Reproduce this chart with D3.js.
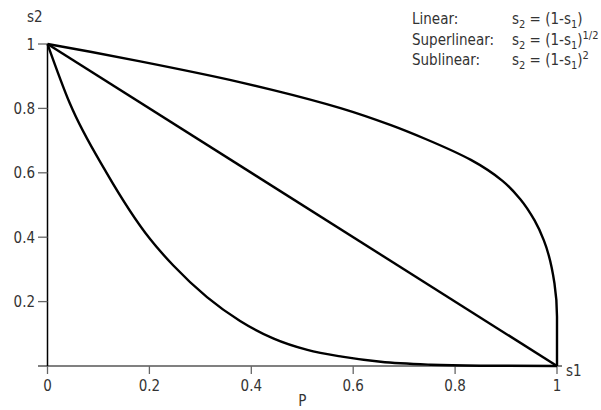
<!DOCTYPE html>
<html><head><meta charset="utf-8">
<script src="https://cdn.jsdelivr.net/npm/d3@7"></script>
<style>
body{margin:0;background:#fff;}
text{font-family:"Liberation Sans Narrow","DejaVu Sans Condensed","Roboto Condensed",sans-serif;fill:#333;}
</style></head>
<body><svg id="c" width="601" height="410"></svg>
<script>
const xTicks = [0, 0.2, 0.4, 0.6, 0.8, 1];
const yTicks = [0.2, 0.4, 0.6, 0.8, 1];
const xTickLabels = ["0", "0.2", "0.4", "0.6", "0.8", "1"];
const yTickLabels = ["0.2", "0.4", "0.6", "0.8", "1"];
const linearS1 = [0, 1];
const linearS2 = [1, 0];
const superS1 = [0, 0.084, 0.182, 0.379, 0.443, 0.575, 0.674, 0.742, 0.831, 0.893, 0.928, 0.956, 0.974, 0.995, 1.0, 1.0];
const superS2 = [1, 0.976, 0.946, 0.881, 0.857, 0.801, 0.748, 0.705, 0.640, 0.575, 0.518, 0.452, 0.391, 0.257, 0.153, 0];
const subS1 = [0, 0.044, 0.116, 0.201, 0.247, 0.313, 0.378, 0.444, 0.510, 0.578, 0.654, 0.752, 0.85, 1];
const subS2 = [1, 0.815, 0.600, 0.395, 0.312, 0.214, 0.140, 0.085, 0.050, 0.029, 0.013, 0.004, 0.001, 0];
const legendNames = ["Linear:", "Superlinear:", "Sublinear:"];
const legendExps = ["", "1/2", "2"];

const svg = d3.select("#c");
const x = d3.scaleLinear().domain([0, 1]).range([47.5, 557]);
const y = d3.scaleLinear().domain([0, 1]).range([366, 44]);

// x axis
svg.append("line").attr("x1", 38).attr("x2", 562).attr("y1", y(0)).attr("y2", y(0))
  .attr("stroke", "#808080").attr("stroke-width", 2);
const xa = svg.append("g");
xa.selectAll("line").data(xTicks).join("line")
  .attr("x1", d => x(d)).attr("x2", d => x(d)).attr("y1", y(0)).attr("y2", y(0) + 8)
  .attr("stroke", "#666").attr("stroke-width", 1.3);
xa.selectAll("text").data(xTicks).join("text")
  .attr("x", d => x(d)).attr("y", 391).attr("text-anchor", "middle")
  .attr("font-size", 15).text((d, i) => xTickLabels[i]);

// y axis
svg.append("line").attr("x1", x(0)).attr("x2", x(0)).attr("y1", y(1)).attr("y2", y(0))
  .attr("stroke", "#000").attr("stroke-width", 1.5);
const ya = svg.append("g");
ya.selectAll("line").data(yTicks).join("line")
  .attr("x1", 38).attr("x2", x(0)).attr("y1", d => y(d)).attr("y2", d => y(d))
  .attr("stroke", "#666").attr("stroke-width", 1.3);
ya.selectAll("text").data(yTicks).join("text")
  .attr("x", 35).attr("y", d => y(d) + 5.5).attr("text-anchor", "end")
  .attr("font-size", 15).text((d, i) => yTickLabels[i]);

svg.append("text").attr("x", 27).attr("y", 22).attr("font-size", 15).text("s2");
svg.append("text").attr("x", 566).attr("y", 376).attr("font-size", 15).text("s1");
svg.append("text").attr("x", x(0.5)).attr("y", 406).attr("text-anchor", "middle").attr("font-size", 15).text("P");

// curves
const mk = c => d3.line().x(d => x(d[0])).y(d => y(d[1])).curve(c);
const series = [
  {pts: d3.zip(linearS1, linearS2), c: d3.curveLinear},
  {pts: d3.zip(superS1, superS2), c: d3.curveMonotoneY},
  {pts: d3.zip(subS1, subS2), c: d3.curveMonotoneX}
];
svg.selectAll("path.s").data(series).join("path").attr("class", "s")
  .attr("d", d => mk(d.c)(d.pts)).attr("fill", "none").attr("stroke", "#000").attr("stroke-width", 2.4)
  .attr("stroke-linejoin", "round");

// legend
const lg = svg.append("g");
legendNames.forEach((n, i) => {
  const by = 24 + i * 20.5;
  lg.append("text").attr("x", 412).attr("y", by).attr("font-size", 15).text(n);
  const t = lg.append("text").attr("x", 512).attr("y", by).attr("font-size", 15);
  t.append("tspan").text("s");
  t.append("tspan").attr("dy", 4).attr("font-size", 11).text("2");
  t.append("tspan").attr("dy", -4).text(" = (1-s");
  t.append("tspan").attr("dy", 4).attr("font-size", 11).text("1");
  t.append("tspan").attr("dy", -4).text(")");
  if (legendExps[i]) {
    t.append("tspan").attr("dy", -6).attr("font-size", 11).text(legendExps[i]);
  }
});
</script></body></html>
